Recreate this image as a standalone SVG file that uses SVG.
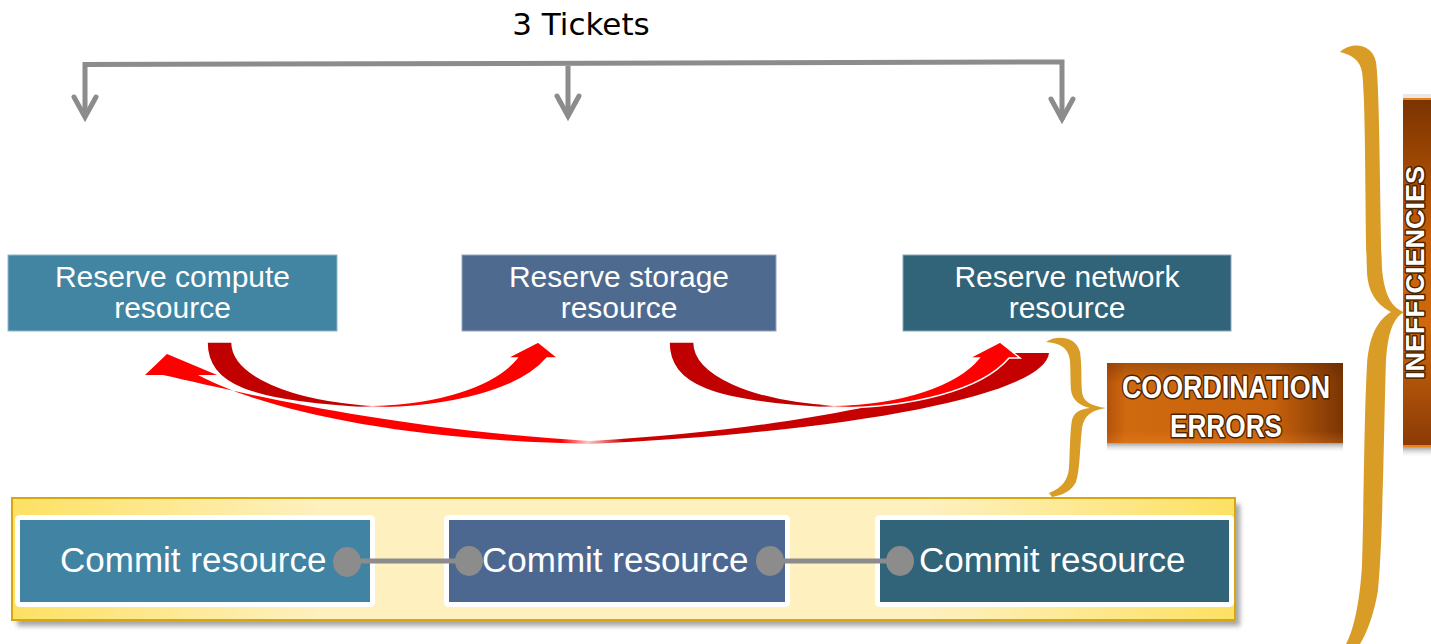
<svg xmlns="http://www.w3.org/2000/svg" width="1431" height="644" viewBox="0 0 1431 644">
<defs>
<style>
.gray{fill:none;stroke:#8c8c8c;stroke-width:5}
.head{fill:none;stroke:#8c8c8c;stroke-width:5;stroke-linecap:round;stroke-linejoin:miter}
.rtxt{font-family:"Liberation Sans",Arial,sans-serif;font-size:30px;fill:#ffffff;text-anchor:middle}
.ctxt{font-family:"Liberation Sans",Arial,sans-serif;font-size:35px;fill:#ffffff}
.lbl{font-family:"Liberation Sans",Arial,sans-serif;font-weight:bold;fill:#ffffff;stroke:#4a2300;stroke-width:3;paint-order:stroke;stroke-linejoin:round;text-anchor:middle}
.brace{fill:#d99c27}
.dot{fill:#8c8c8c}
</style>
<linearGradient id="gA" x1="0" y1="0" x2="1" y2="0">
<stop offset="0" stop-color="#c00000"/>
<stop offset="0.43" stop-color="#c40000"/>
<stop offset="0.47" stop-color="#ffc8c8"/>
<stop offset="0.52" stop-color="#ff0000"/>
<stop offset="1" stop-color="#ff0000"/>
</linearGradient>
<linearGradient id="gB" x1="0" y1="0" x2="1" y2="0">
<stop offset="0" stop-color="#ff0000"/>
<stop offset="0.46" stop-color="#ff0000"/>
<stop offset="0.49" stop-color="#ffc8c8"/>
<stop offset="0.53" stop-color="#cc0000"/>
<stop offset="1" stop-color="#c40000"/>
</linearGradient>
<linearGradient id="band" x1="0" y1="0" x2="1" y2="0">
<stop offset="0" stop-color="#fde163"/>
<stop offset="0.25" stop-color="#fef0bf"/>
<stop offset="0.75" stop-color="#fef0bf"/>
<stop offset="1" stop-color="#fde163"/>
</linearGradient>
<linearGradient id="coord" x1="0" y1="0" x2="1" y2="0">
<stop offset="0" stop-color="#b4520a"/>
<stop offset="0.08" stop-color="#d06a10"/>
<stop offset="0.7" stop-color="#c8620c"/>
<stop offset="1" stop-color="#7a3504"/>
</linearGradient>
<linearGradient id="coordV" x1="0" y1="0" x2="0" y2="1">
<stop offset="0" stop-color="#5a2000" stop-opacity="0.35"/>
<stop offset="0.25" stop-color="#5a2000" stop-opacity="0"/>
<stop offset="0.85" stop-color="#ff9030" stop-opacity="0"/>
<stop offset="1" stop-color="#ff9030" stop-opacity="0.25"/>
</linearGradient>
<linearGradient id="ineff" x1="0" y1="0" x2="0" y2="1">
<stop offset="0" stop-color="#7a3300"/>
<stop offset="0.4" stop-color="#c85e08"/>
<stop offset="0.65" stop-color="#cf690c"/>
<stop offset="1" stop-color="#8a3a06"/>
</linearGradient>
<linearGradient id="shadowV" x1="0" y1="0" x2="0" y2="1">
<stop offset="0" stop-color="#a0a0a0"/>
<stop offset="1" stop-color="#ffffff" stop-opacity="0"/>
</linearGradient>
<filter id="blur" x="-5%" y="-20%" width="110%" height="140%">
<feGaussianBlur stdDeviation="2.5"/>
</filter>
</defs>

<rect width="1431" height="644" fill="#ffffff"/>

<g id="title">
<text x="581" y="35" font-family="DejaVu Sans, sans-serif" font-size="31" fill="#000000" text-anchor="middle">3 Tickets</text>
</g>

<g id="reserve-compute">
<rect x="8" y="255" width="329" height="76" fill="#4185a3" stroke="#8fb8cc" stroke-width="1"/>
<text class="rtxt" x="172.5" y="287">Reserve compute</text>
<text class="rtxt" x="172.5" y="318">resource</text>
</g>
<g id="reserve-storage">
<rect x="462" y="255" width="314" height="76" fill="#4e6a8f" stroke="#95a6c0" stroke-width="1"/>
<text class="rtxt" x="619" y="287">Reserve storage</text>
<text class="rtxt" x="619" y="318">resource</text>
</g>
<g id="reserve-network">
<rect x="903" y="255" width="328" height="76" fill="#316379" stroke="#8aa9b8" stroke-width="1"/>
<text class="rtxt" x="1067" y="287">Reserve network</text>
<text class="rtxt" x="1067" y="318">resource</text>
</g>

<g id="commit-band">
<rect x="17" y="504" width="1223" height="122" fill="#000000" opacity="0.35" filter="url(#blur)"/>
<rect x="12" y="498" width="1223" height="122" fill="url(#band)" stroke="#d6a613" stroke-width="2"/>
</g>
<g id="commit-compute">
<rect x="17.5" y="517.5" width="355" height="87" rx="2" fill="#4183a2" stroke="#ffffff" stroke-width="5"/>
<text class="ctxt" x="60" y="572">Commit resource</text>
</g>
<g id="commit-storage">
<rect x="446.5" y="517.5" width="341" height="87" rx="2" fill="#4d6890" stroke="#ffffff" stroke-width="5"/>
<text class="ctxt" x="482" y="572">Commit resource</text>
</g>
<g id="commit-network">
<rect x="877.5" y="517.5" width="354" height="87" rx="2" fill="#316379" stroke="#ffffff" stroke-width="5"/>
<text class="ctxt" x="919" y="572">Commit resource</text>
</g>

<g id="connectors">
<path class="gray" d="M85 117 V64.5 L1062 62 V120 M568 64 V116"/>
<path class="head" d="M74 97 L85 117 L96 97"/>
<path class="head" d="M557 96 L568 116 L579 96"/>
<path class="head" d="M1051 99 L1062 119 L1073 99"/>

<path id="arrow-net-compute" fill="url(#gB)" d="M1049 353 C1045 395 850 432 590 444 C390 440 260 408 198 375 L217 375 L167 354 L145 375 L163 375 C240 392 380 428 590 441 C820 428 990 385 1014 353 Z"/>
<path id="arrow-compute-storage" fill="url(#gA)" stroke="#ffffff" stroke-width="1.5" d="M207 342 C207 385 250 402 370 408 C450 408 520 390 547 358 L558 358 L538 342 L507 358 L517 358 C495 385 440 404 372 405 C290 400 232 375 232 342 Z"/>
<path id="arrow-storage-network" fill="url(#gA)" stroke="#ffffff" stroke-width="1.5" transform="translate(462,0)" d="M207 342 C207 385 250 402 370 408 C450 408 520 390 547 358 L558 358 L538 342 L507 358 L517 358 C495 385 440 404 372 405 C290 400 232 375 232 342 Z"/>

<line x1="347" y1="561" x2="469" y2="561" stroke="#8c8c8c" stroke-width="5"/>
<line x1="770" y1="561" x2="900" y2="561" stroke="#8c8c8c" stroke-width="5"/>
<ellipse class="dot" cx="347" cy="562" rx="14" ry="15"/>
<ellipse class="dot" cx="469" cy="561" rx="14" ry="15"/>
<ellipse class="dot" cx="770" cy="561" rx="14" ry="15"/>
<ellipse class="dot" cx="900" cy="561" rx="14" ry="15"/>
</g>

<g id="coordination-brace">
<path class="brace" d="M1046 342 C1056 335 1076 336 1080 352 C1082 365 1081 380 1082 392 C1083 402 1092 406 1106 408 C1092 410 1084 415 1082 428 C1080 445 1080 470 1076 482 C1072 490 1064 495 1052 497 L1049 493 C1062 488 1068 480 1069 468 C1070 450 1070 430 1072 420 C1074 412 1080 409 1090 408 C1080 406 1072 400 1071 390 C1070 375 1071 362 1069 356 C1066 346 1058 343 1046 342 Z"/>
</g>

<g id="coordination-errors">
<rect x="1107" y="443" width="236" height="10" fill="url(#shadowV)"/>
<rect x="1107" y="363" width="236" height="80" fill="url(#coord)"/>
<rect x="1107" y="363" width="236" height="80" fill="url(#coordV)"/>
<text class="lbl" x="1226" y="398" font-size="31" textLength="208" lengthAdjust="spacingAndGlyphs">COORDINATION</text>
<text class="lbl" x="1226" y="437" font-size="31" textLength="112" lengthAdjust="spacingAndGlyphs">ERRORS</text>
</g>

<g id="inefficiencies-brace">
<path class="brace" d="M1340 52 C1350 42 1372 42 1376 62 C1380 90 1380 220 1382 268 C1384 295 1392 308 1404 312 C1394 318 1388 330 1386 360 C1384 420 1383 540 1378 590 C1374 615 1366 635 1360 644 L1346 644 C1354 630 1360 600 1362 565 C1364 500 1364 420 1367 365 C1369 335 1378 320 1391 312 C1380 306 1368 296 1367 272 C1365 220 1366 100 1362 72 C1360 60 1352 55 1340 52 Z"/>
</g>

<g id="inefficiencies">
<rect x="1403" y="447" width="28" height="11" fill="url(#shadowV)"/>
<rect x="1403" y="94" width="28" height="4" fill="#e8e8e8"/>
<rect x="1403" y="98" width="28" height="349" fill="url(#ineff)"/>
<rect x="1403" y="98" width="28" height="2" fill="#f08018"/>
<rect x="1403" y="445" width="28" height="2" fill="#f08018"/>
<text class="lbl" transform="translate(1424,272.5) rotate(-90)" x="0" y="0" font-size="26" stroke-width="2.5" textLength="213" lengthAdjust="spacingAndGlyphs">INEFFICIENCIES</text>
</g>
</svg>
